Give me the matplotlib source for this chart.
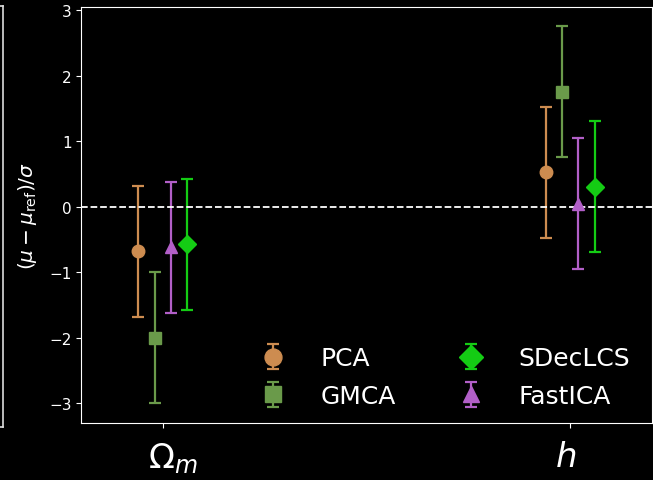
import numpy as np
import matplotlib
matplotlib.use("Agg")
import matplotlib.pyplot as plt
from matplotlib.lines import Line2D
from matplotlib.transforms import ScaledTranslation

# parameters and methods
params = [r'$\Omega_m$', r'$h$']
methods = ['PCA', 'GMCA', 'FastICA', 'SDecLCS']
offsets = [-0.06, -0.02, 0.02, 0.06]

# (mu - mu_ref) / sigma for each method, per parameter
pca = [-0.68, 0.53]
gmca = [-2.00, 1.76]
fastica = [-0.62, 0.05]
sdeclcs = [-0.57, 0.31]
errors = [1.0, 1.0]

values = {'PCA': pca, 'GMCA': gmca, 'FastICA': fastica, 'SDecLCS': sdeclcs}
colors = {'PCA': '#cd8c50', 'GMCA': '#6a9a4a', 'FastICA': '#b25fc8', 'SDecLCS': '#14cc14'}
markers = {'PCA': 'o', 'GMCA': 's', 'FastICA': '^', 'SDecLCS': 'D'}

plt.style.use('dark_background')
fig = plt.figure(figsize=(6.53, 4.81), dpi=100)
ax = fig.add_axes([81.3 / 653, 1 - 424 / 481, (651.7 - 81.3) / 653, (424 - 8) / 481])

x = np.arange(len(params))
handles = {}
for m, off in zip(methods, offsets):
    h = ax.errorbar(x + off, values[m], yerr=errors, fmt=markers[m], color=colors[m],
                    markersize=9, capsize=4, elinewidth=1.6,
                    capthick=1.6, label=m)
    handles[m] = h

ax.axhline(0, color='white', linestyle='--', linewidth=1.3)
ax.set_xlim(-0.2, 1.2)
ax.set_ylim(-3.3, 3.05)
ax.set_yticks([-3, -2, -1, 0, 1, 2, 3])
ax.set_xticks(x)
ax.set_xticklabels(params, fontsize=24.5)
ax.tick_params(axis='x', pad=9)
ax.tick_params(axis='y', labelsize=11)
ax.set_ylabel(r'$(\mu - \mu_{\rm ref})/\sigma$', fontsize=14.5, labelpad=7)

# nudge the x labels sideways as in the original
for lab, dx in zip(ax.get_xticklabels(), [10, -4.5]):
    lab.set_transform(lab.get_transform() + ScaledTranslation(dx / 100, 0, fig.dpi_scale_trans))

order = ['PCA', 'GMCA', 'SDecLCS', 'FastICA']
ax.legend([handles[m] for m in order], order, ncol=2, frameon=False, fontsize=18,
          markerscale=1.35, loc='center', bbox_to_anchor=(0.627, 0.11),
          columnspacing=2.0, handletextpad=0.9, labelspacing=0.55)

# edge of the neighbouring panel on the left
fig.add_artist(Line2D([2.5 / 653, 2.5 / 653], [1 - 7 / 481, 1 - 427.5 / 481],
                      color='#dddddd', linewidth=1.2, transform=fig.transFigure))
fig.add_artist(Line2D([0, 2.5 / 653], [1 - 7 / 481, 1 - 7 / 481],
                      color='#dddddd', linewidth=1.2, transform=fig.transFigure))
fig.add_artist(Line2D([0, 2.5 / 653], [1 - 427.5 / 481, 1 - 427.5 / 481],
                      color='#dddddd', linewidth=1.2, transform=fig.transFigure))

fig.savefig('out.png', dpi=100, facecolor='black')
